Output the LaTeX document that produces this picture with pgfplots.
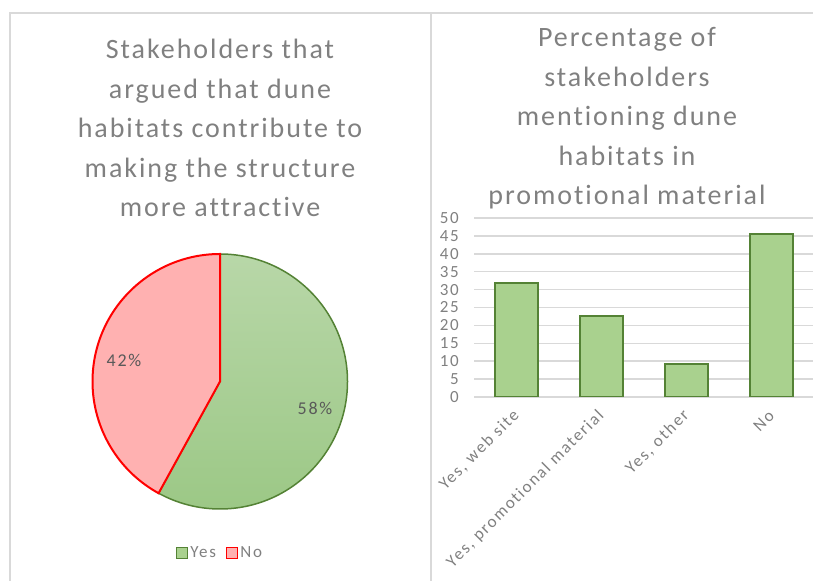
\documentclass[border=0pt]{standalone}
\usepackage{pgfplots}
\pgfplotsset{compat=1.18}
\usepackage{fontspec}
\setmainfont{Carlito}[Ligatures=NoCommon]
\newfontfamily\titlefont[LetterSpace=7,Ligatures=NoCommon]{Carlito}
\newfontfamily\lblfont[LetterSpace=10,Ligatures=NoCommon]{Carlito}
\definecolor{frame}{HTML}{D9D9D9}
\definecolor{txtgray}{HTML}{808080}
\definecolor{lblgray}{HTML}{595959}
\definecolor{barfill}{HTML}{A9D18E}
\definecolor{baredge}{HTML}{548235}
\definecolor{pietop}{HTML}{B8D7A8}
\definecolor{piebot}{HTML}{9CC886}
\definecolor{pink}{HTML}{FFB1B1}
\definecolor{redge}{HTML}{FF0000}
\pgfplotstableread{
x val
0 31.8
1 22.7
2 9.1
3 45.5
}\bardata
\def\pieYes{58}
\def\pieNo{42}
\begin{document}
\begin{tikzpicture}[x=1bp,y=1bp]
\path[use as bounding box] (0,0) rectangle (813,581);
% panel frames
\draw[frame, line width=2bp] (10,0) -- (10,568) -- (813,568);
\draw[frame, line width=2bp] (431,0) -- (431,568);
% titles
\node[text=txtgray, font=\titlefont\fontsize{28bp}{39.5bp}\selectfont, align=center, anchor=north] at (220,581-36)
 {Stakeholders that\\argued that dune\\habitats contribute to\\making the structure\\more attractive};
\node[text=txtgray, font=\titlefont\fontsize{28bp}{39.5bp}\selectfont, align=center, anchor=north] at (627,581-24)
 {Percentage of\\stakeholders\\mentioning dune\\habitats in\\promotional material};
% pie
\begin{axis}[hide axis, scale only axis, clip=false, at={(0,0)}, anchor=south west,
  x=1bp, y=1bp, xmin=0, xmax=430, ymin=0, ymax=560,
  legend style={draw=none, fill=none, font=\lblfont\fontsize{17bp}{17bp}\selectfont, text=txtgray,
    at={(axis cs:220,28)}, anchor=center, legend columns=2,
    /tikz/every even column/.append style={column sep=8bp}},
  legend cell align=left, legend image code/.code={\draw[#1, line width=1.5bp] (0bp,-5.5bp) rectangle (11bp,5.5bp);}]
\addlegendimage{draw=baredge, fill=barfill}
\addlegendentry{Yes}
\addlegendimage{draw=redge, fill=pink}
\addlegendentry{No}
\path[draw=baredge, line width=1.5bp, top color=pietop, bottom color=piebot]
  (axis cs:220,199.5) -- ++(90:127.5bp) arc[start angle=90, end angle={90-3.6*\pieYes}, radius=127.5bp] -- cycle;
\path[draw=redge, fill=pink, line width=2bp]
  (axis cs:220,199.5) -- ++(90:127.5bp) arc[start angle=90, end angle={90+3.6*\pieNo}, radius=127.5bp] -- cycle;
\node[text=lblgray, font=\lblfont\fontsize{18bp}{18bp}\selectfont] at (axis cs:124,221) {42\%};
\node[text=lblgray, font=\lblfont\fontsize{18bp}{18bp}\selectfont] at (axis cs:315,173) {58\%};
\end{axis}
% bar chart
\begin{scope}[shift={(474bp,184bp)}]
\begin{axis}[scale only axis, at={(0,0)}, anchor=south west, width=340bp, height=179bp,
  xmin=-0.5, xmax=3.5, ymin=0, ymax=50, ytick={0,5,...,50},
  xtick=data, xticklabels={{Yes, web site},{Yes, promotional material},{Yes, other},{No}},
  axis line style={draw=none}, major tick length=0pt,
  ymajorgrids, grid style={frame, line width=1.5bp},
  /pgf/number format/assume math mode=true,
  yticklabel style={text=txtgray, font=\lblfont\fontsize{17bp}{17bp}\selectfont, anchor=east, inner sep=0pt, xshift=-15bp},
  xticklabel style={text=txtgray, font=\lblfont\fontsize{17bp}{17bp}\selectfont, rotate=45, anchor=east, inner sep=0pt},
  xticklabel shift=16bp,
  ybar, bar width=43bp, bar shift=0pt]
\addplot[fill=barfill, draw=baredge, line width=2bp] table[x=x, y=val] {\bardata};
\end{axis}
\end{scope}
\end{tikzpicture}
\end{document}
